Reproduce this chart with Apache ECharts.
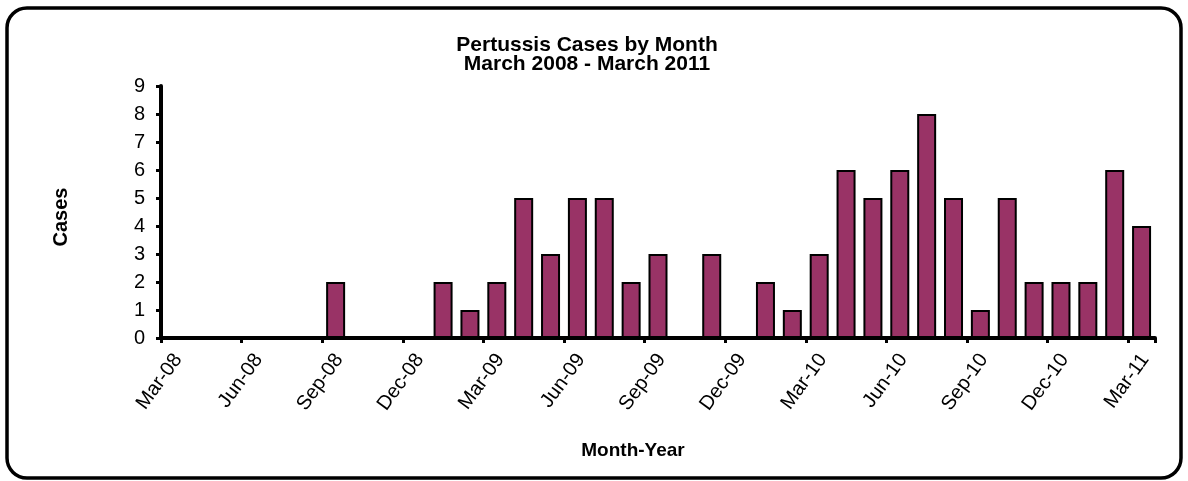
<!DOCTYPE html>
<html>
<head>
<meta charset="utf-8">
<script src="https://cdn.jsdelivr.net/npm/echarts@6/dist/echarts.min.js"></script>
<style>
  html, body { margin: 0; padding: 0; background: #fff; }
  #chart { width: 1188px; height: 481px; }
</style>
</head>
<body>
<div id="chart"></div>
<script>
// months Mar-08 .. Mar-11, one bar per month
var months = ['Mar-08', 'Apr-08', 'May-08', 'Jun-08', 'Jul-08', 'Aug-08', 'Sep-08', 'Oct-08', 'Nov-08', 'Dec-08',
    'Jan-09', 'Feb-09', 'Mar-09', 'Apr-09', 'May-09', 'Jun-09', 'Jul-09', 'Aug-09', 'Sep-09', 'Oct-09', 'Nov-09', 'Dec-09',
    'Jan-10', 'Feb-10', 'Mar-10', 'Apr-10', 'May-10', 'Jun-10', 'Jul-10', 'Aug-10', 'Sep-10', 'Oct-10', 'Nov-10', 'Dec-10',
    'Jan-11', 'Feb-11', 'Mar-11'];
var cases = [0, 0, 0, 0, 0, 0, 2, 0, 0, 0,
    2, 1, 2, 5, 3, 5, 5, 2, 3, 0, 3, 0,
    2, 1, 3, 6, 5, 6, 8, 5, 1, 5, 2, 2,
    2, 6, 4];
var yTicks = [0, 1, 2, 3, 4, 5, 6, 7, 8, 9];

var font = '"Liberation Sans", Arial, sans-serif';

// each month fills one unit on the x scale, bar sits in the middle of it
var barData = [];
for (var i = 0; i < cases.length; i++) {
    barData.push([i + 0.5, cases[i]]);
}

var myChart = echarts.init(document.getElementById('chart'));
var option = {
    backgroundColor: '#fff',
    animation: false,
    graphic: [
        {
            type: 'rect',
            shape: { x: 7, y: 8, width: 1174, height: 470, r: 20 },
            style: { fill: 'none', stroke: '#000', lineWidth: 3.5 },
            silent: true
        },
        {
            type: 'text',
            x: 587, y: 45,
            style: { text: 'Pertussis Cases by Month', font: 'bold 21px ' + font, fill: '#000', align: 'center', verticalAlign: 'middle' }
        },
        {
            type: 'text',
            x: 587, y: 64,
            style: { text: 'March 2008 - March 2011', font: 'bold 21px ' + font, fill: '#000', align: 'center', verticalAlign: 'middle' }
        },
        {
            type: 'text',
            x: 633, y: 451,
            style: { text: 'Month-Year', font: 'bold 19px ' + font, fill: '#000', align: 'center', verticalAlign: 'middle' }
        },
        {
            type: 'text',
            x: 61, y: 217,
            rotation: Math.PI / 2,
            style: { text: 'Cases', font: 'bold 20px ' + font, fill: '#000', align: 'center', verticalAlign: 'middle' }
        }
    ],
    grid: [
        { left: 161, right: 33, top: 86, bottom: 143 },
        // labels of the month axis sit a bit right of their ticks
        { left: 178, right: 16, top: 86, bottom: 143 }
    ],
    xAxis: [
        {
            type: 'value',
            min: 0,
            max: months.length,
            interval: 3,
            splitLine: { show: false },
            axisLine: { lineStyle: { color: '#000', width: 4 } },
            axisTick: { length: 5, lineStyle: { color: '#000', width: 3 } },
            axisLabel: { show: false }
        },
        {
            type: 'value',
            gridIndex: 1,
            min: 0,
            max: months.length,
            interval: 3,
            splitLine: { show: false },
            axisLine: { show: false },
            axisTick: { show: false },
            axisLabel: {
                rotate: 54,
                margin: 18,
                fontFamily: font,
                fontSize: 20,
                color: '#000',
                showMaxLabel: false,
                formatter: function (v) {
                    return months[v] || '';
                }
            }
        }
    ],
    yAxis: [
        {
            type: 'value',
            min: yTicks[0],
            max: yTicks[yTicks.length - 1],
            interval: 1,
            splitLine: { show: false },
            axisLine: { show: true, lineStyle: { color: '#000', width: 4 } },
            axisTick: { show: true, length: 5, lineStyle: { color: '#000', width: 3 } },
            axisLabel: {
                margin: 16,
                fontFamily: font,
                fontSize: 20,
                color: '#000'
            }
        },
        {
            type: 'value',
            gridIndex: 1,
            min: yTicks[0],
            max: yTicks[yTicks.length - 1],
            show: false
        }
    ],
    series: [
        {
            name: 'Cases',
            type: 'bar',
            data: barData,
            barWidth: 19,
            itemStyle: {
                color: '#993366',
                borderColor: '#000',
                borderWidth: 2
            }
        }
    ]
};
myChart.setOption(option);
</script>
</body>
</html>
